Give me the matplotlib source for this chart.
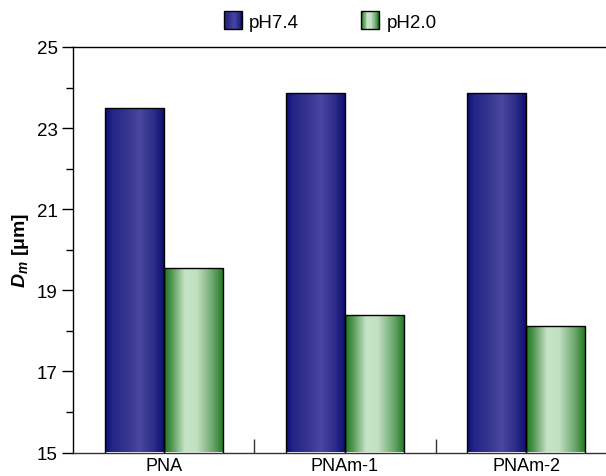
import numpy as np
import matplotlib
matplotlib.use("Agg")
import matplotlib.pyplot as plt
from matplotlib.colors import LinearSegmentedColormap
from matplotlib.patches import Rectangle
from matplotlib.legend_handler import HandlerBase
from matplotlib.ticker import FixedLocator

plt.rcParams['font.family'] = ['Liberation Sans', 'DejaVu Sans']
plt.rcParams['mathtext.fontset'] = 'custom'
plt.rcParams['mathtext.it'] = 'Liberation Sans:italic:bold'
plt.rcParams['mathtext.rm'] = 'Liberation Sans:bold'

categories = ["PNA", "PNAm-1", "PNAm-2"]
series_names = ["pH7.4", "pH2.0"]
ph74 = [23.50, 23.86, 23.86]
ph20 = [19.55, 18.40, 18.13]
yticks = [15, 17, 19, 21, 23, 25]
yminor = [16, 18, 20, 22, 24]

blue_cmap = LinearSegmentedColormap.from_list("blue", [
    (0.0, "#0c0c6e"), (0.12, "#24248a"), (0.35, "#34348f"), (0.58, "#4848a0"),
    (0.82, "#2c2c8a"), (1.0, "#0c0c6e")])
green_cmap = LinearSegmentedColormap.from_list("green", [
    (0.0, "#1a761a"), (0.12, "#4e944e"), (0.35, "#c6e4c6"), (0.55, "#c2e0c2"),
    (0.82, "#6aa66a"), (1.0, "#1c761c")])

fig = plt.figure(figsize=(6.06, 4.77), dpi=100)
ax = fig.add_axes([73/606, 23.5/477, 1 - 73/606, (453.5 - 48)/477])

x = np.arange(len(categories))
w = 0.326
grad = np.linspace(0, 1, 256).reshape(1, -1)

def grad_bars(xpos, vals, cmap):
    bars = ax.bar(xpos, vals, width=w, bottom=0, facecolor='none',
                  edgecolor='black', linewidth=1.0, zorder=3)
    for b in bars:
        x0 = b.get_x()
        x1 = x0 + b.get_width()
        im = ax.imshow(grad, cmap=cmap, aspect='auto', extent=[x0, x1, 15, b.get_height()],
                       origin='lower', zorder=2, interpolation='bilinear')
        im.set_clip_path(b)
    return bars

grad_bars(x - w/2, ph74, blue_cmap)
grad_bars(x + w/2, ph20, green_cmap)

ax.set_xlim(-0.5, 2.44)
ax.set_ylim(15, 25)
ax.yaxis.set_major_locator(FixedLocator(yticks))
ax.yaxis.set_minor_locator(FixedLocator(yminor))
ax.tick_params(axis='y', which='major', direction='out', length=8, width=1, labelsize=13.5, pad=3)
ax.tick_params(axis='y', which='minor', direction='out', length=5, width=1)
ax.set_xticks(x)
ax.set_xticklabels(categories)
ax.tick_params(axis='x', which='major', length=0, labelsize=13, pad=3.5)
ax.xaxis.set_minor_locator(FixedLocator([0.5, 1.5]))
ax.tick_params(axis='x', which='minor', direction='in', length=10, width=1, color='#333333')

ax.spines['right'].set_visible(False)
for s in ['left', 'top', 'bottom']:
    ax.spines[s].set_linewidth(1.0)
ax.spines['bottom'].set_color('#333333')

ax.set_ylabel(r'$D_m$ [μm]', fontsize=14, fontweight='bold', labelpad=4)

class GradHandler(HandlerBase):
    def __init__(self, cmap):
        super().__init__()
        self.cmap = cmap
    def create_artists(self, legend, orig_handle, xdescent, ydescent, width, height, fontsize, trans):
        n = 24
        arts = []
        for k in range(n):
            r = Rectangle((-xdescent + width*k/n, -ydescent), width/n + 0.05, height,
                          facecolor=self.cmap((k + 0.5)/n), edgecolor='none', transform=trans)
            arts.append(r)
        arts.append(Rectangle((-xdescent, -ydescent), width, height, fill=False,
                              edgecolor='black', linewidth=1.0, transform=trans))
        return arts

h1 = Rectangle((0, 0), 1, 1)
h2 = Rectangle((0, 0), 1, 1)
fig.legend([h1, h2], series_names, loc='center', bbox_to_anchor=(0.545, 1 - 22/477),
           ncol=2, frameon=False, fontsize=13.5, handlelength=0.95, handleheight=1.1,
           handletextpad=0.4, columnspacing=3.3,
           handler_map={h1: GradHandler(blue_cmap), h2: GradHandler(green_cmap)})

fig.savefig("out.png", dpi=100)
